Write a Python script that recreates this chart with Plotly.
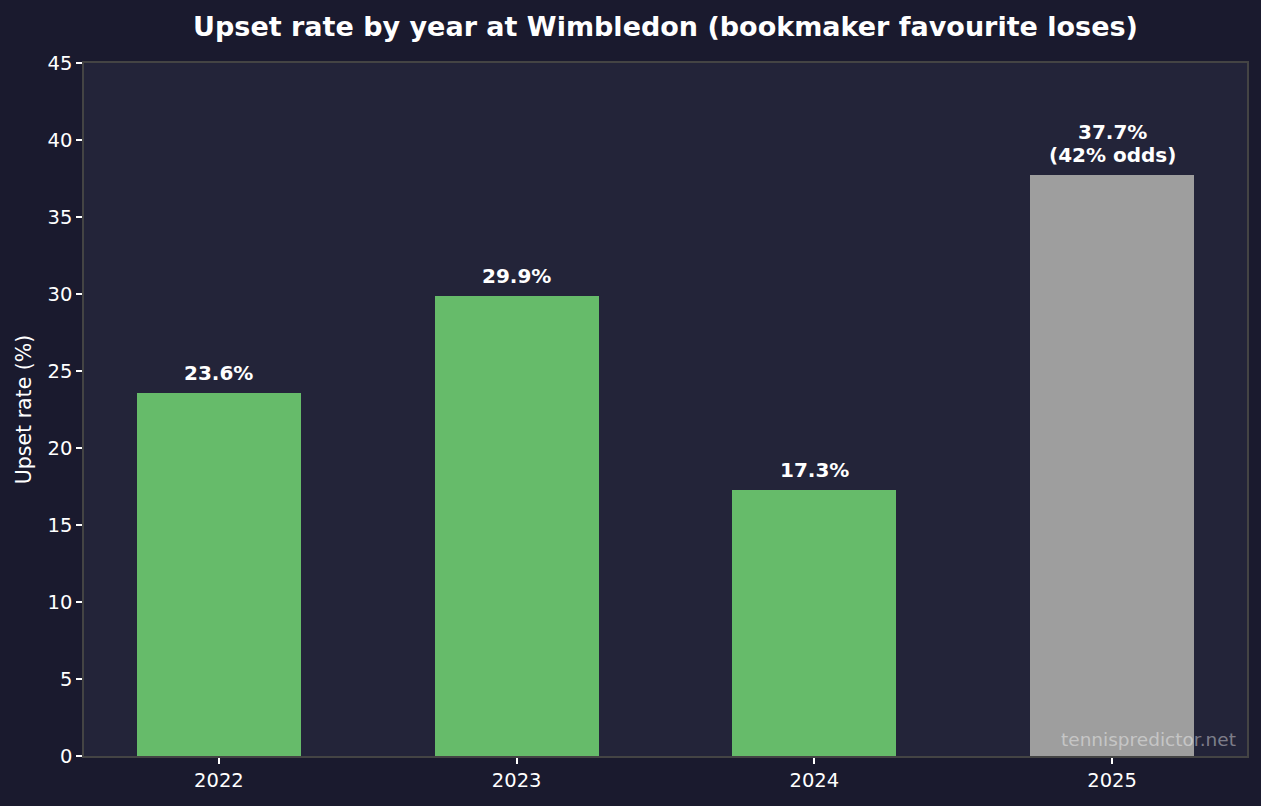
import plotly.graph_objects as go

years = ["2022", "2023", "2024", "2025"]
upset_rate = [23.6, 29.9, 17.3, 37.7]
labels = ["23.6%", "29.9%", "17.3%", "37.7%<br>(42% odds)"]
bar_colors = ["#66bb6a", "#66bb6a", "#66bb6a", "#9e9e9e"]
y_ticks = [0, 5, 10, 15, 20, 25, 30, 35, 40, 45]

FONT = "DejaVu Sans"

fig = go.Figure()
fig.add_trace(go.Bar(
    x=years, y=upset_rate, marker=dict(color=bar_colors, line=dict(width=0)),
    width=0.55, hoverinfo="skip",
))

for i, (y, t) in enumerate(zip(upset_rate, labels)):
    lines = t.split("<br>")[::-1]
    for k, line in enumerate(lines):
        fig.add_annotation(x=i, y=y, xref="x", yref="y", text="<b>%s</b>" % line,
                           showarrow=False, yanchor="bottom", yshift=6 + 23 * k,
                           font=dict(family=FONT, size=20, color="white"))

fig.add_annotation(xref="paper", yref="paper", x=0.992, y=0.024,
                   xanchor="right", yanchor="middle", showarrow=False,
                   text="tennispredictor.net",
                   font=dict(family=FONT, size=18.5, color="rgba(255,255,255,0.42)"))

fig.update_layout(
    width=1261, height=806,
    margin=dict(l=84, r=14, t=63, b=50),
    paper_bgcolor="#1a1a2e", plot_bgcolor="#232439",
    font=dict(family=FONT, color="white", size=19.5),
    title=dict(text="<b>Upset rate by year at Wimbledon (bookmaker favourite loses)</b>",
               xref="paper", x=0.5, xanchor="center", y=0.9665, yanchor="middle",
               font=dict(family=FONT, size=27, color="white")),
    showlegend=False,
    bargap=0,
)
fig.update_xaxes(type="category", range=[-0.453, 3.453], showgrid=False,
                 showline=True, linecolor="#444444", linewidth=1.5, mirror=True,
                 ticks="outside", ticklen=6, tickcolor="white", tickwidth=1.5,
                 tickfont=dict(family=FONT, size=19.5, color="white"), zeroline=False)
fig.update_yaxes(range=[0, 45], tickvals=y_ticks, showgrid=False,
                 showline=True, linecolor="#444444", linewidth=1.5, mirror=True,
                 ticks="outside", ticklen=6, tickcolor="white", tickwidth=1.5,
                 tickfont=dict(family=FONT, size=19.5, color="white"), zeroline=False,
                 title=dict(text="Upset rate (%)", standoff=10,
                            font=dict(family=FONT, size=20.5, color="white")))

fig.write_html("out.html")
